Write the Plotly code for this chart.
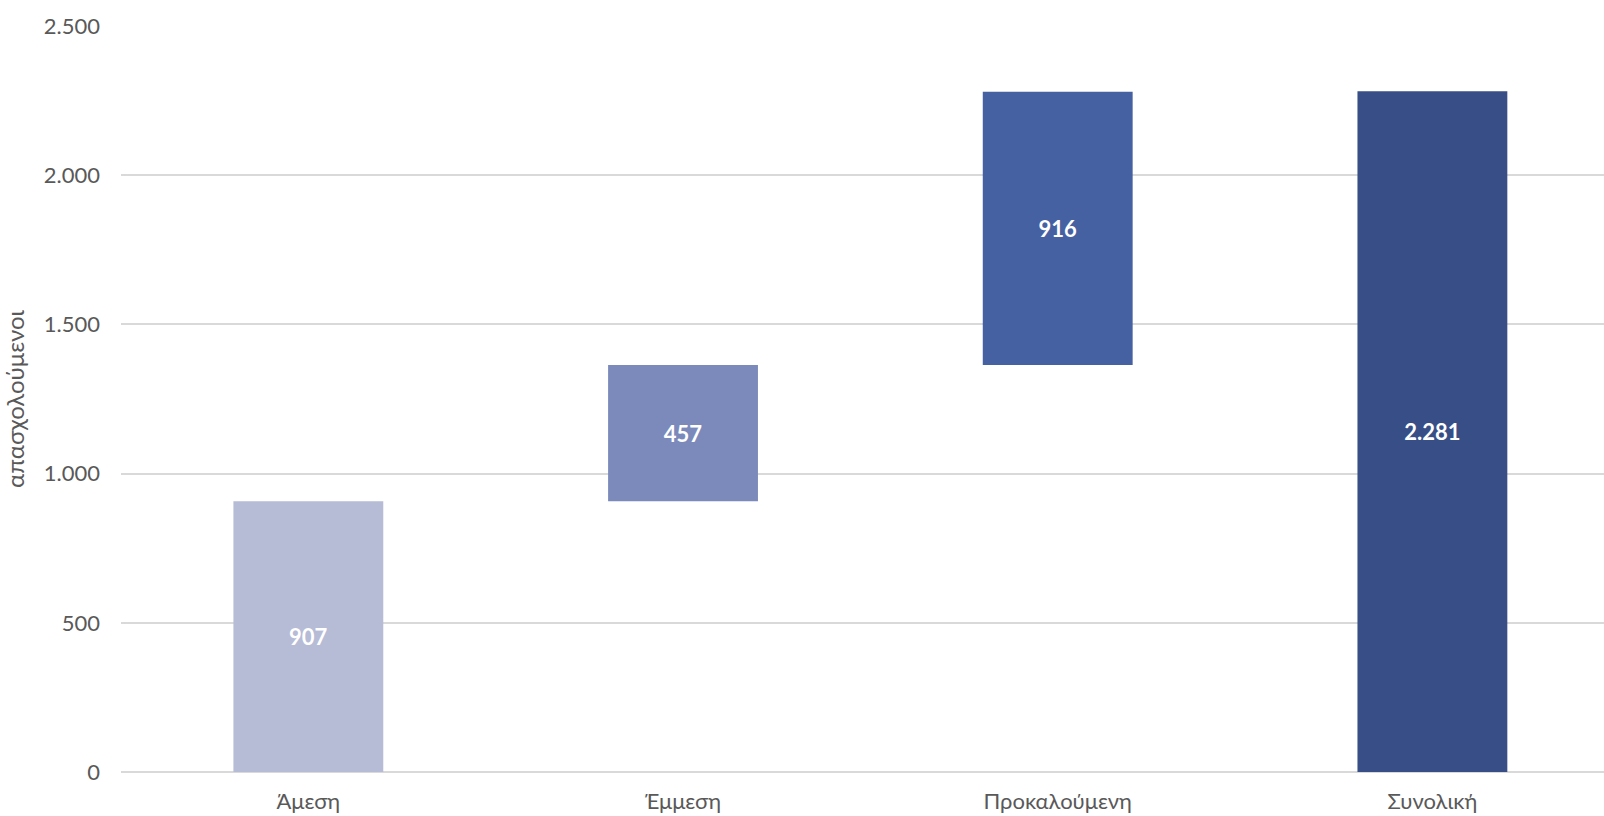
import plotly.graph_objects as go

categories = ["Άμεση", "Έμμεση", "Προκαλούμενη", "Συνολική"]
values = [907, 457, 916, 2281]
bases = [0, 907, 1364, 0]
labels = ["907", "457", "916", "2.281"]
colors = ["#B6BBD6", "#7B8ABB", "#4661A1", "#374F86"]
y_ticks = [0, 500, 1000, 1500, 2000, 2500]
y_ticktext = ["0", "500", "1.000", "1.500", "2.000", "2.500"]

FONT = "Lato, 'Open Sans', sans-serif"

fig = go.Figure(
    go.Bar(
        x=categories,
        y=values,
        base=bases,
        marker=dict(color=colors, line=dict(width=0)),
        width=0.4,
        text=labels,
        textposition="inside",
        insidetextanchor="middle",
        textangle=0,
        textfont=dict(family=FONT, size=22, color="white", weight="bold"),
        hoverinfo="skip",
    )
)

fig.update_layout(
    width=1604,
    height=816,
    margin=dict(l=121, r=0, t=26, b=44),
    paper_bgcolor="white",
    plot_bgcolor="white",
    showlegend=False,
    font=dict(family=FONT, size=22, color="#595959"),
    uniformtext=dict(minsize=22, mode="show"),
)

fig.update_xaxes(
    range=[-0.5, 3.458],
    showgrid=False,
    showline=False,
    zeroline=False,
    tickfont=dict(family=FONT, size=22, color="#595959"),
    ticks="",
    ticklabelstandoff=14,
)

fig.update_yaxes(
    range=[0, 2500],
    tickvals=y_ticks,
    ticktext=y_ticktext,
    showgrid=True,
    gridcolor="#D9D9D9",
    gridwidth=1.5,
    zeroline=True,
    zerolinecolor="#D9D9D9",
    zerolinewidth=1.5,
    showline=False,
    ticks="",
    ticklabelstandoff=20,
    tickfont=dict(family=FONT, size=22, color="#595959"),
    title=dict(text="απασχολούμενοι", font=dict(family=FONT, size=24, color="#595959"), standoff=13),
)

fig.write_html(
    "out.html",
    config={"displayModeBar": False},
    post_script="document.body.style.margin='0';document.body.style.overflow='hidden';",
)
